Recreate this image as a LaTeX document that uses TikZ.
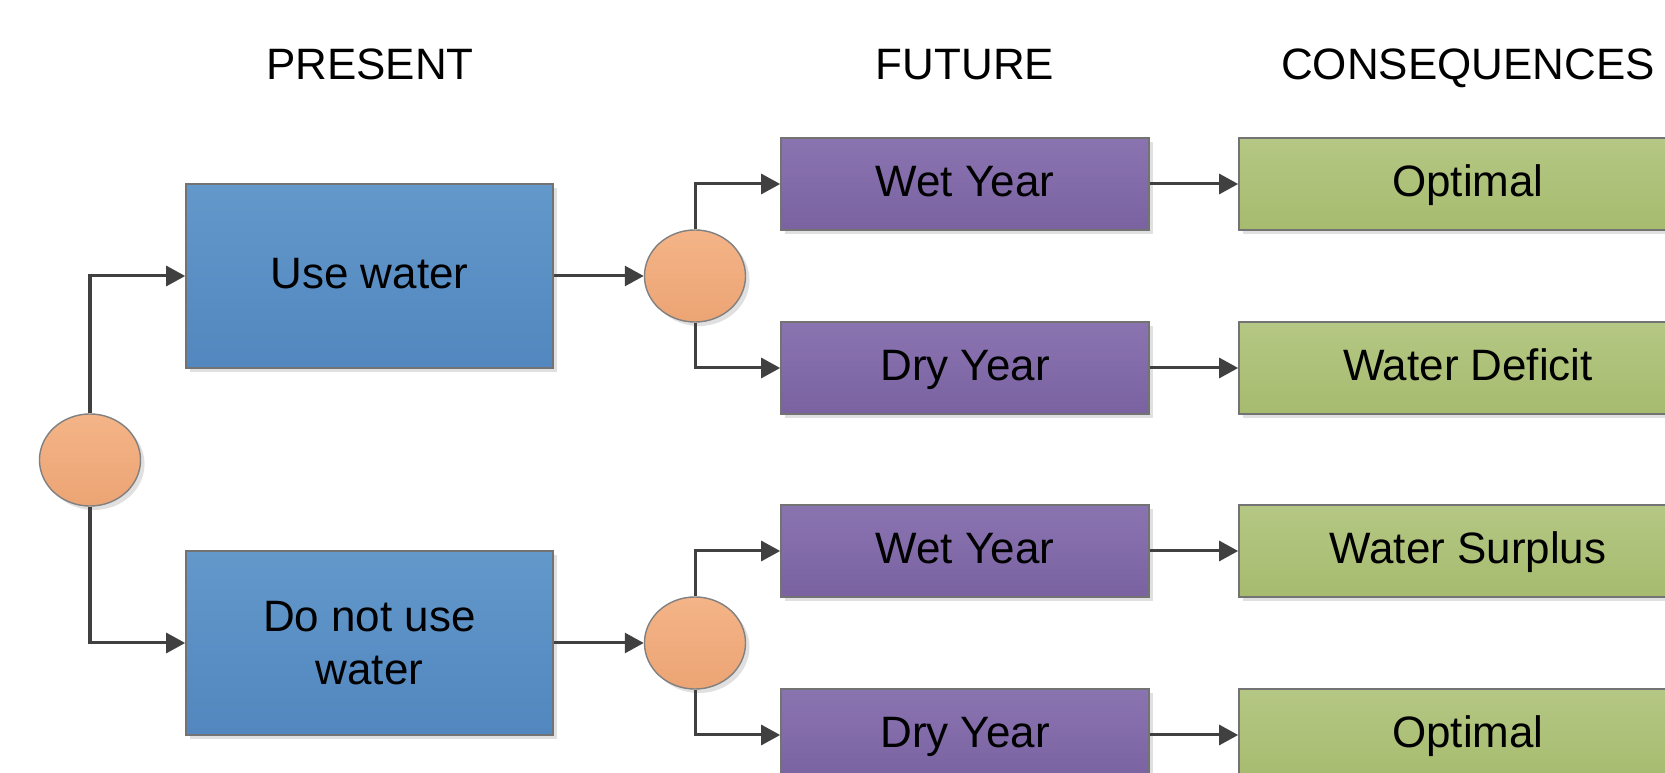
\documentclass[tikz,border=0pt]{standalone}
\usepackage{fontspec}
\setmainfont{Liberation Sans}
\definecolor{dtblueA}{HTML}{6398CB}
\definecolor{dtblueB}{HTML}{5287BF}
\definecolor{dtpurpleA}{HTML}{8A74B0}
\definecolor{dtpurpleB}{HTML}{7A62A1}
\definecolor{dtgreenA}{HTML}{B5C784}
\definecolor{dtgreenB}{HTML}{A6BB6E}
\definecolor{dtorangeA}{HTML}{F4B487}
\definecolor{dtorangeB}{HTML}{ECA474}
\definecolor{dtline}{HTML}{404040}
\usetikzlibrary{arrows.meta,shapes.geometric,shadows}

\begin{document}
\begin{tikzpicture}[x=0.01cm,y=-0.01cm,
  font=\fontsize{12.5}{15}\selectfont,
  dtshadow/.style={drop shadow={shadow xshift=0.04cm,shadow yshift=-0.04cm,fill=black,opacity=0.12}},
  dtbox/.style={draw=black!55,line width=0.4pt,dtshadow,align=center,inner sep=2pt},
  dtlabel/.style={text height=0.78em,text depth=0.05em},
  dtchoice/.style={dtbox,top color=dtblueA,bottom color=dtblueB,minimum width=3.67cm,minimum height=1.84cm},
  dtfuture/.style={dtbox,dtlabel,top color=dtpurpleA,bottom color=dtpurpleB,minimum width=3.68cm,minimum height=0.92cm},
  dtresult/.style={dtbox,dtlabel,top color=dtgreenA,bottom color=dtgreenB,minimum width=4.58cm,minimum height=0.92cm},
  dtchance/.style={ellipse,draw=black!50,line width=0.4pt,dtshadow,top color=dtorangeA,bottom color=dtorangeB,
    minimum width=1.01cm,minimum height=0.92cm,inner sep=0pt},
  dtarrow/.style={-{Triangle[length=0.19cm,width=0.2cm]},draw=dtline,line width=0.03cm}
]
  \clip (0,0) rectangle (1665,773);

  % Column titles
  \node[anchor=base] (hpresent) at (370,80) {PRESENT};
  \node[anchor=base] (hfuture) at (965,80) {FUTURE};
  \node[anchor=base] (hconseq) at (1468,80) {CONSEQUENCES};

  % Decision
  \node[dtchance] (root) at (90,460) {};
  \node[dtchoice,dtlabel] (usew) at (369.5,276) {Use water};
  \node[dtchoice] (dontw) at (369.5,643) {Do not use\\water};

  % Chance nodes
  \node[dtchance] (ch1) at (695,276) {};
  \node[dtchance] (ch2) at (695,643) {};

  % Future
  \node[dtfuture] (wet1) at (965,184) {Wet Year};
  \node[dtfuture] (dry1) at (965,368) {Dry Year};
  \node[dtfuture] (wet2) at (965,551) {Wet Year};
  \node[dtfuture] (dry2) at (965,735) {Dry Year};

  % Consequences
  \node[dtresult] (res1) at (1468,184) {Optimal};
  \node[dtresult] (res2) at (1468,368) {Water Deficit};
  \node[dtresult] (res3) at (1468,551) {Water Surplus};
  \node[dtresult] (res4) at (1468,735) {Optimal};

  % Connectors
  \draw[dtarrow] (root.north) |- (usew.west);
  \draw[dtarrow] (root.south) |- (dontw.west);
  \draw[dtarrow] (usew.east) -- (ch1.west);
  \draw[dtarrow] (dontw.east) -- (ch2.west);
  \draw[dtarrow] (ch1.north) |- (wet1.west);
  \draw[dtarrow] (ch1.south) |- (dry1.west);
  \draw[dtarrow] (ch2.north) |- (wet2.west);
  \draw[dtarrow] (ch2.south) |- (dry2.west);
  \draw[dtarrow] (wet1.east) -- (res1.west);
  \draw[dtarrow] (dry1.east) -- (res2.west);
  \draw[dtarrow] (wet2.east) -- (res3.west);
  \draw[dtarrow] (dry2.east) -- (res4.west);
\end{tikzpicture}
\end{document}
